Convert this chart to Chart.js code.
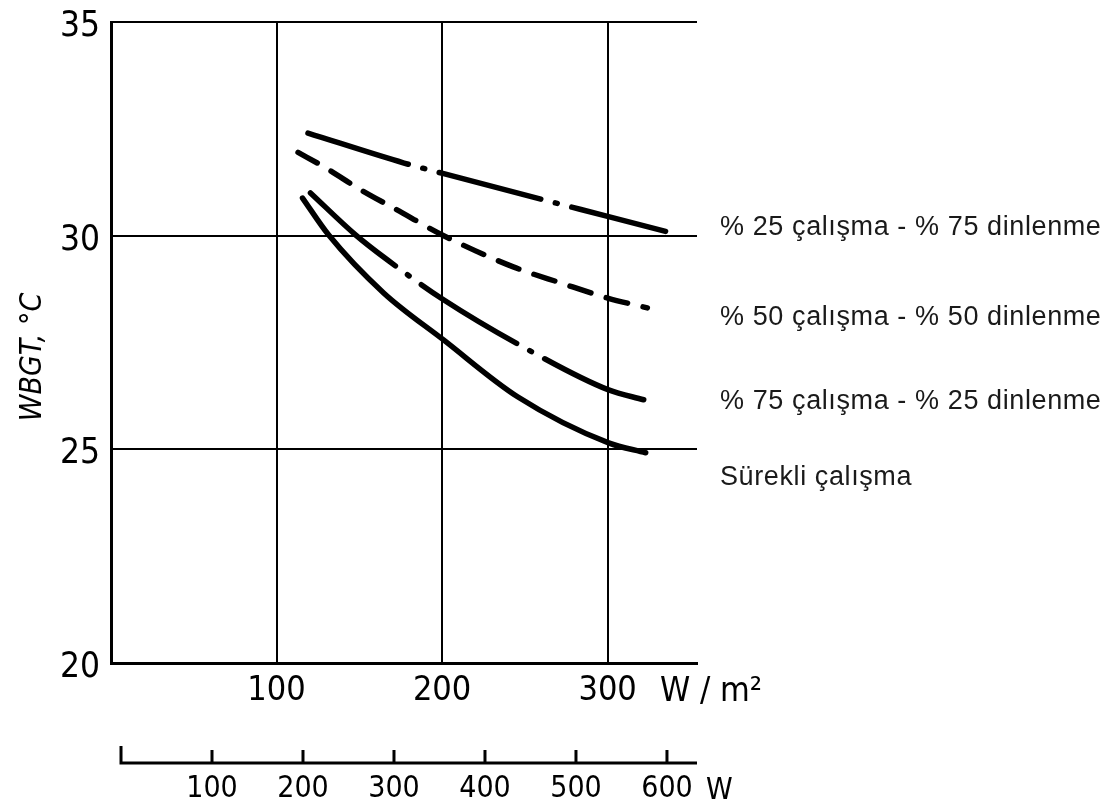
<!DOCTYPE html>
<html>
<head>
<meta charset="utf-8">
<title>WBGT</title>
<script src="https://cdn.jsdelivr.net/npm/chart.js@4.4.1/dist/chart.umd.min.js"></script>
<style>
html, body { margin: 0; padding: 0; background: #fff; }
canvas { display: block; }
</style>
</head>
<body>
<canvas id="grafica_wbgt" width="1115" height="812"></canvas>
<script>
var etiquetas = [
    "% 25 çalışma - % 75 dinlenme",
    "% 50 çalışma - % 50 dinlenme",
    "% 75 çalışma - % 25 dinlenme",
    "Sürekli çalışma"
];

// W/m2 and WBGT (°C) for each curve
var x_25 = [119, 177, 201, 300, 335];
var y_25 = [32.4, 31.7, 31.45, 30.45, 30.1];

var x_50 = [113, 130, 151, 172, 201, 243, 272, 300, 324];
var y_50 = [31.95, 31.58, 31.07, 30.62, 30.0, 29.27, 28.89, 28.54, 28.31];

var x_75 = [120.5, 147.7, 167.1, 200.9, 255.3, 300.6, 321.8];
var y_75 = [31.0, 30.02, 29.43, 28.5, 27.26, 26.39, 26.16];

var x_surekli = [115.7, 131.4, 164.7, 200.9, 245.6, 300.6, 323];
var y_surekli = [30.88, 30.02, 28.66, 27.56, 26.23, 25.15, 24.92];

var ticks_x = [100, 200, 300];
var ticks_y = [20, 25, 30, 35];
var ticks_w = [100, 200, 300, 400, 500, 600];

var fuente_eje = "'Liberation Sans Narrow', 'DejaVu Sans Condensed', sans-serif";
var fuente_texto = "'Liberation Sans', Arial, sans-serif";

function puntos(xs, ys) {
    var lista = [];
    for (var i = 0; i < xs.length; i++) {
        lista.push({ x: xs[i], y: ys[i] });
    }
    return lista;
}

function serie(etiqueta, xs, ys, guiones) {
    return {
        label: etiqueta,
        data: puntos(xs, ys),
        borderColor: "#000",
        borderWidth: 5.5,
        borderDash: guiones,
        borderCapStyle: "round",
        pointRadius: 0,
        fill: false,
        cubicInterpolationMode: "monotone"
    };
}

function fijarTicks(valores) {
    return function (scale) {
        scale.ticks = valores.map(function (v) { return { value: v }; });
    };
}

// second scale in W, its ticks point up from the base line, plus free texts
var textos = {
    id: "textos",
    afterDraw: function (chart) {
        var ctx = chart.ctx;
        var area = chart.chartArea;
        var w = chart.scales.w;
        var y = chart.scales.y;
        var base = w.top;
        ctx.save();
        ctx.strokeStyle = "#000";
        ctx.lineWidth = 3;
        ctx.lineCap = "butt";
        ctx.beginPath();
        var x0 = w.getPixelForValue(0);
        ctx.moveTo(x0, base - 17);
        ctx.lineTo(x0, base);
        ctx.lineTo(area.right, base);
        ticks_w.forEach(function (v) {
            var px = w.getPixelForValue(v);
            ctx.moveTo(px, base);
            ctx.lineTo(px, base - 13);
        });
        ctx.stroke();

        ctx.fillStyle = "#000";
        ctx.textBaseline = "middle";
        ctx.textAlign = "left";
        ctx.font = "34px " + fuente_eje;
        ctx.fillText("W / m²", 660, 692);
        ctx.font = "30px " + fuente_eje;
        ctx.fillText("W", 706, 791);

        ctx.save();
        ctx.translate(33, 357);
        ctx.rotate(-Math.PI / 2);
        ctx.textAlign = "center";
        ctx.font = "italic 30px " + fuente_eje;
        ctx.fillText("WBGT, °C", 0, 0);
        ctx.restore();

        ctx.fillStyle = "#1a1a1a";
        ctx.font = "27px " + fuente_texto;
        ctx.letterSpacing = "0.6px";
        var niveles = [30.23, 28.12, 26.16, 24.38];
        etiquetas.forEach(function (t, i) {
            ctx.fillText(t, 720, y.getPixelForValue(niveles[i]) + 2);
        });
        ctx.restore();
    }
};

function grafica_wbgt() {
    var datos = {
        type: "line",
        data: {
            datasets: [
                serie(etiquetas[0], x_25, y_25, [105, 15, 2, 15]),
                serie(etiquetas[1], x_50, y_50, [22, 16]),
                serie(etiquetas[2], x_75, y_75, [112, 15, 2, 15]),
                serie(etiquetas[3], x_surekli, y_surekli, [])
            ]
        },
        options: {
            responsive: false,
            animation: false,
            devicePixelRatio: 1,
            layout: { padding: { top: 22, right: 418, bottom: 0, left: 0 } },
            plugins: {
                legend: { display: false },
                tooltip: { enabled: false }
            },
            scales: {
                x: {
                    type: "linear",
                    position: "bottom",
                    min: 0,
                    max: 354,
                    afterBuildTicks: fijarTicks(ticks_x),
                    afterFit: function (s) { s.height = 100; },
                    grid: { color: "#000", lineWidth: 2, drawTicks: false },
                    border: { color: "#000", width: 3 },
                    ticks: {
                        color: "#000",
                        padding: 8,
                        maxRotation: 0,
                        font: { family: fuente_eje, size: 34 }
                    }
                },
                w: {
                    type: "linear",
                    position: "bottom",
                    min: -11,
                    max: 633,
                    afterBuildTicks: fijarTicks(ticks_w),
                    afterFit: function (s) { s.height = 49; },
                    grid: { display: false, drawTicks: false },
                    border: { display: false },
                    ticks: {
                        color: "#000",
                        padding: 8,
                        maxRotation: 0,
                        font: { family: fuente_eje, size: 30 }
                    }
                },
                y: {
                    type: "linear",
                    min: 20,
                    max: 35,
                    afterBuildTicks: fijarTicks(ticks_y),
                    afterFit: function (s) {
                        s.width = 111;
                        s.paddingTop = 0;
                        s.paddingBottom = 0;
                    },
                    grid: { color: "#000", lineWidth: 2, drawTicks: false },
                    border: { color: "#000", width: 3 },
                    ticks: {
                        color: "#000",
                        padding: 11,
                        labelOffset: 5,
                        font: { family: fuente_eje, size: 35 }
                    }
                }
            }
        },
        plugins: [textos]
    };
    new Chart(document.getElementById("grafica_wbgt"), datos);
}

grafica_wbgt();
</script>
</body>
</html>
